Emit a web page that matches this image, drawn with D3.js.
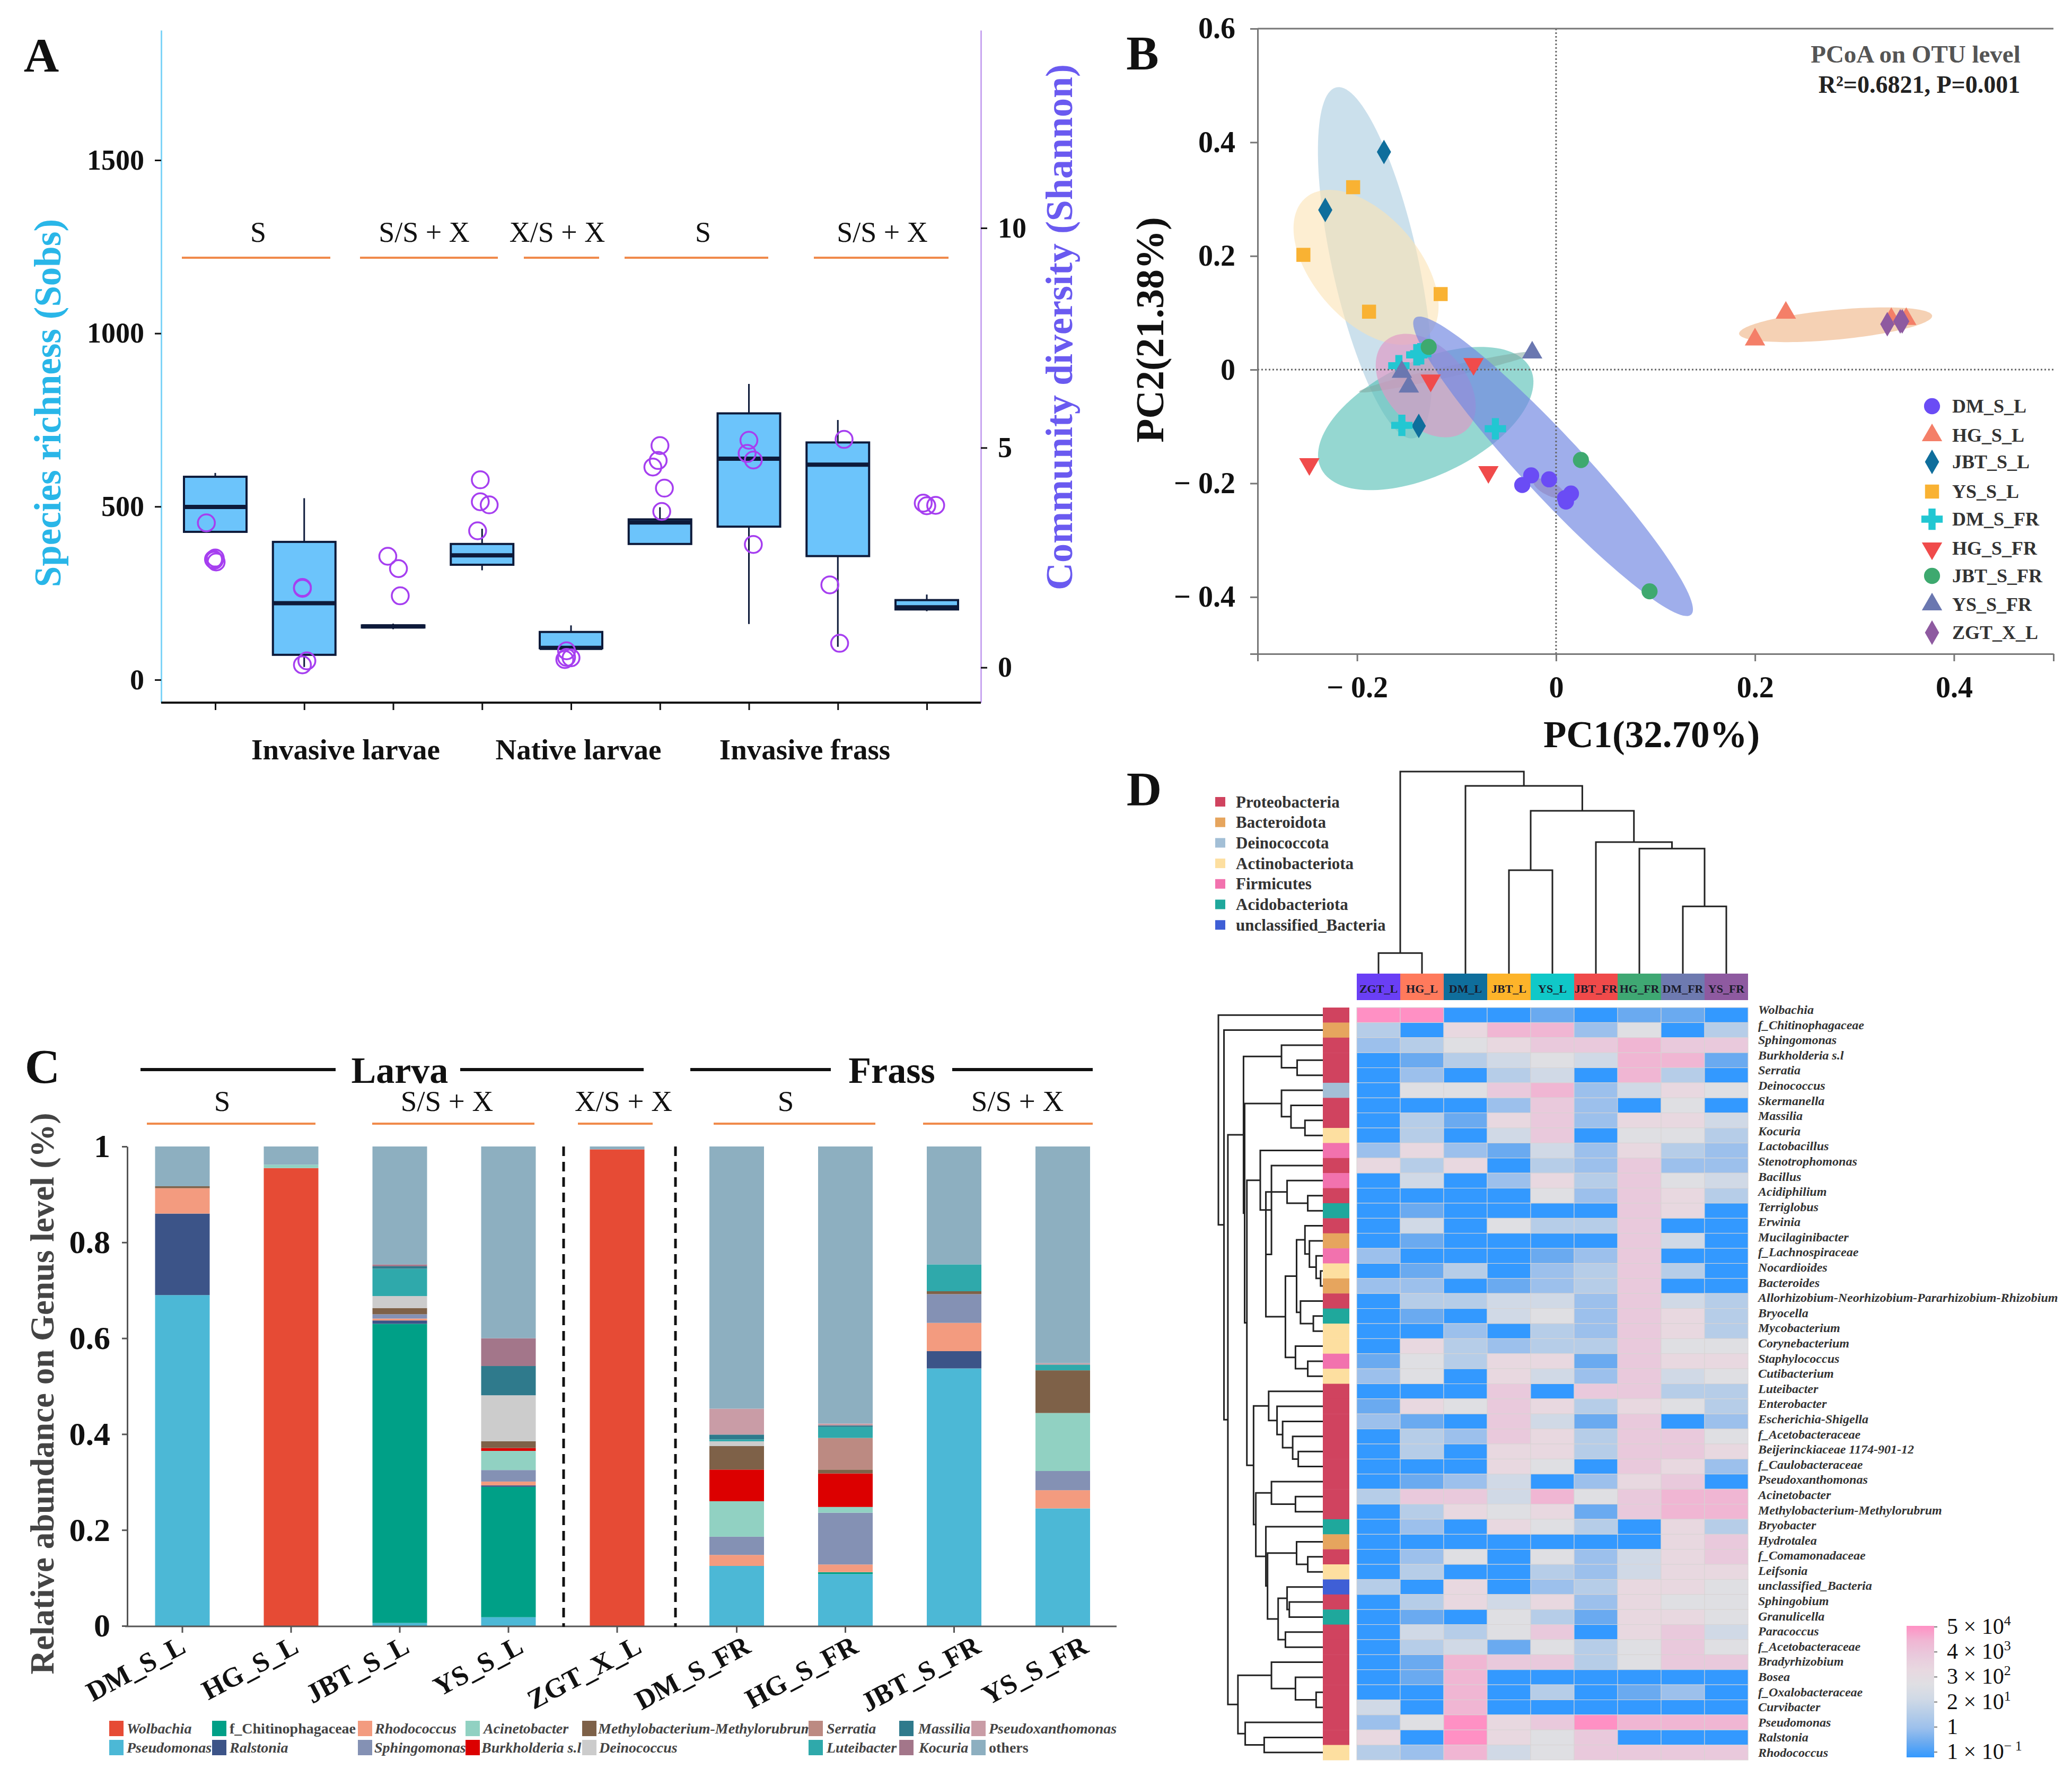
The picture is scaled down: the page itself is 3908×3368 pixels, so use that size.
<!DOCTYPE html>
<html><head><meta charset="utf-8">
<script src="https://cdn.jsdelivr.net/npm/d3@7/dist/d3.min.js"></script>
<style>html,body{margin:0;background:#fff}svg{display:block}text{font-family:"Liberation Serif",serif}</style>
</head><body><svg id="c" width="3908" height="3368" viewBox="0 0 3908 3368"></svg>
<script>
// ---------- Panel A data ----------
const sampleNames = ["DM_S_L","HG_S_L","JBT_S_L","YS_S_L","ZGT_X_L","DM_S_FR","HG_S_FR","JBT_S_FR","YS_S_FR"];
const boxLow    = [427, 37, 146, 316, 91, 392, 161, 95, 198];
const boxQ1     = [427, 72, 151, 332, 91, 392, 442, 357, 203];
const boxMedian = [499, 221, 154, 359, 92, 454, 638, 621, 209];
const boxQ3     = [586, 398, 157, 392, 138, 463, 769, 685, 230];
const boxHigh   = [597, 524, 162, 436, 157, 498, 854, 750, 246];
const shannonPos = [-0.1,0,-0.01,0.01,-0.02, 0.98,0.98,1.03,0.98, 1.94,2.06,2.08, 2.98,2.98,3.08,2.95, 3.95,4,3.93,3.95, 5,4.98,4.92,5.05,5.02, 6,5.98,6.05,6.05, 7.07,6.91,7.02, 7.96,8,8.1];
const shannonVal = [3.29,2.49,2.44,2.40,2.46, 1.82,1.80,0.15,0.06, 2.53,2.25,1.63, 4.27,3.77,3.70,3.11, 0.38,0.22,0.18,0.23, 5.05,4.71,4.56,4.08,3.55, 5.17,4.87,4.72,2.80, 5.19,1.88,0.55, 3.74,3.68,3.69];
const leftTicks = [0,500,1000,1500];
const rightTicks = [0,5,10];
const feedLabels = ["S","S/S + X","X/S + X","S","S/S + X"];
const hostLabels = ["Invasive larvae","Native larvae","Invasive frass"];

// ---------- Panel B data ----------
const groupNames = ["DM_S_L","HG_S_L","JBT_S_L","YS_S_L","DM_S_FR","HG_S_FR","JBT_S_FR","YS_S_FR","ZGT_X_L"];
const groupColors = ["#6a4cf5","#f47f68","#0f6e9c","#f9b233","#22c7d2","#f04b4b","#3ea96f","#6a77b0","#8e5aa0"];
const pc1 = [[-.034,-.025,-.007,.015,.01,.009],[.2,.231,.337,.352],[-.173,-.232,-.138],[-.254,-.204,-.188,-.116],[-.158,-.136,-.155,-.061,-.14],[-.083,-.126,-.248,-.068],[-.128,.025,.094],[-.024,-.155,-.148],[.333,.346,.348]];
const pc2 = [[-.203,-.186,-.193,-.218,-.232,-.226],[.053,.1,.089,.089],[.383,.281,-.099],[.202,.321,.102,.133],[.007,.028,-.098,-.104,.026],[.01,-.019,-.166,-.18],[.04,-.159,-.39],[.03,-.004,-.03],[.08,.085,.085]];
// ellipse: centre x, centre y, major vector x,y, minor vector x,y (PCoA units)
const ellipseColors = ["#a9cbe0","#fbe3b4","#efb98c","#4fbdb3","#7fa8a0","#e096c4","#c97b7b","#7187e2"];
const ellipseOpacity = [.6,.6,.65,.6,.55,.65,.6,.68];
const ellipseCx = [-.182,-.191,.281,-.131,-.109,-.131,-.007,-.003];
const ellipseCy = [.188,.180,.079,-.086,-.004,-.028,-.209,-.170];
const ellipseAx = [-.038,-.054,.097,.101,.089,.034,.015,.138];
const ellipseAy = [.309,.130,.016,.099,.035,-.086,-.015,-.262];
const ellipseBx = [.043,.049,.002,.039,.002,.037,.005,.027];
const ellipseBy = [.010,.041,-.026,-.078,-.009,.030,.009,.028];

// ---------- Panel C data ----------
const genera = ["Pseudomonas","Wolbachia","f_Chitinophagaceae","Ralstonia","Rhodococcus","Sphingomonas","Acinetobacter","Burkholderia s.l","Methylobacterium-Methylorubrum","Deinococcus","Serratia","Luteibacter","Massilia","Kocuria","Pseudoxanthomonas","others"];
const genusColors = ["#4cb8d6","#e64b35","#00a087","#3c5488","#f39b7f","#8491b4","#91d1c2","#dc0000","#7e6148","#cccccc","#bc8a82","#2fa9ab","#2f7a8c","#a3768a","#c99ca6","#8dafc0"];
const pseudomonasV = [.69,0,.006,.018,0,.125,.108,.537,.245];
const wolbachiaV   = [0,.955,0,0,.994,0,0,0,0];
const chitinoV     = [0,0,.624,.272,0,0,.004,0,0];
const ralstoniaV   = [.17,0,.007,.003,0,0,0,.036,0];
const rhodococcusV = [.053,0,.004,.008,0,.023,.016,.059,.038];
const sphingomonasV= [0,0,.009,.024,0,.038,.108,.06,.04];
const acinetoV     = [0,.007,0,.04,0,.074,.012,0,.121];
const burkholderiaV= [0,0,0,.006,0,.066,.07,0,0];
const methyloV     = [.004,0,.013,.014,0,.049,.008,.006,.089];
const deinoV       = [0,0,.025,.096,0,.01,0,0,0];
const serratiaV    = [0,0,0,0,0,0,.066,0,0];
const luteiV       = [0,0,.057,0,0,.004,.023,.056,.012];
const massiliaV    = [0,0,.005,.061,0,.01,.003,0,0];
const kocuriaV     = [0,0,.004,.058,0,0,0,0,0];
const pseudoxV     = [0,0,0,0,0,.054,.004,0,.003];
const othersV      = [.083,.038,.246,.4,.006,.547,.578,.246,.452];
const abundance = [pseudomonasV,wolbachiaV,chitinoV,ralstoniaV,rhodococcusV,sphingomonasV,acinetoV,burkholderiaV,methyloV,deinoV,serratiaV,luteiV,massiliaV,kocuriaV,pseudoxV,othersV];
const barSlots = [0,1,2,3,4,5.1,6.1,7.1,8.1];
const legendRow1 = ["Wolbachia","f_Chitinophagaceae","Rhodococcus","Acinetobacter","Methylobacterium-Methylorubrum","Serratia","Massilia","Pseudoxanthomonas"];
const legendRow2 = ["Pseudomonas","Ralstonia","Sphingomonas","Burkholderia s.l","Deinococcus","Luteibacter","Kocuria","others"];

// ---------- Panel D data ----------
const heatCols = ["ZGT_L","HG_L","DM_L","JBT_L","YS_L","JBT_FR","HG_FR","DM_FR","YS_FR"];
const heatColColors = ["#6a3ff5","#ff7a5c","#0f6e9c","#fdb42a","#10c8c8","#f04a4a","#3fa873","#6e7ab0","#8e5aa0"];
const phyla = ["Proteobacteria","Bacteroidota","Deinococcota","Actinobacteriota","Firmicutes","Acidobacteriota","unclassified_Bacteria"];
const phylaColors = ["#d0435f","#e6a55e","#a3bfd6","#fddfa0","#f272ae","#1fa89c","#3f5fd6"];
const heatRows = ["Wolbachia","f_Chitinophagaceae","Sphingomonas","Burkholderia s.l","Serratia","Deinococcus","Skermanella","Massilia","Kocuria","Lactobacillus","Stenotrophomonas","Bacillus","Acidiphilium","Terriglobus","Erwinia","Mucilaginibacter","f_Lachnospiraceae","Nocardioides","Bacteroides","Allorhizobium-Neorhizobium-Pararhizobium-Rhizobium","Bryocella","Mycobacterium","Corynebacterium","Staphylococcus","Cutibacterium","Luteibacter","Enterobacter","Escherichia-Shigella","f_Acetobacteraceae","Beijerinckiaceae 1174-901-12","f_Caulobacteraceae","Pseudoxanthomonas","Acinetobacter","Methylobacterium-Methylorubrum","Bryobacter","Hydrotalea","f_Comamonadaceae","Leifsonia","unclassified_Bacteria","Sphingobium","Granulicella","Paracoccus","f_Acetobacteraceae","Bradyrhizobium","Bosea","f_Oxalobacteraceae","Curvibacter","Pseudomonas","Ralstonia","Rhodococcus"];
const rowPhylum = [0,1,0,0,0,2,0,0,3,4,0,4,0,5,0,1,4,3,1,0,5,3,3,4,3,0,0,0,0,0,0,0,0,0,5,1,0,3,6,0,5,0,0,0,0,0,0,0,0,3];
// colour level per cell (0 = lowest abundance, 9 = highest)
const heatLevels = [
"990010110","306882503","235677877","013454881","020340830","055782465","000272050","031672664","030470553",
"262142632","636032722","040263754","000052763","010000760","040533700","010000740","200012700","013023730",
"220123700","033442743","010452763","002032763","063233755","153661766","250642745","000707733","165763653",
"210741702","032763775","030663776","000650762","012402670","377485788","036561788","020653063","000000067",
"025052467","030032466","306023665","036462655","010531665","043570674","034153575","018773577","018000000",
"008030120","408000000","259679888","609657000","328457777"];
const levelColors = ["#3399ff","#6aaaf0","#9cc0ec","#b6cde8","#d0d9e6","#dfdfe3","#e8d8e0","#e9c9dc","#f0b6d3","#ff90c4"];
const colTree = [1,[.102,0,1],[.929,2,[.806,[.512,3,4],[.651,5,[.619,6,[.333,7,8]]]]]];
const S1=[74,2,[46,3,4]], S2=[74,5,[57,6,[32,7,8]]], T1=[64,11,[27,12,13]], T3=[32,14,[24,15,[12,16,[4,17,18]]]],
 T4=[40,19,[17,20,21]], T5=[49,22,[27,23,24]], T2=[67,[47,T3,T4],T5], M2=[102,T1,T2], L1=[112,9,[92,10,M2]],
 LC=[97,25,[82,26,[72,27,[54,28,[44,29,30]]]]], PC=[92,31,[49,32,33]], HC=[47,35,[27,36,37]], UC=[64,38,[60,39,40]], PA=[67,41,42],
 CC=[102,34,[99,HC,[80,UC,PA]]], L2=[124,LC,[120,PC,CC]], YY=[136,L1,L2], XX=[140,S2,YY], N3=[142,S1,XX],
 NB=[152,[92,43,[49,44,[12,45,46]]],[139,47,[105,48,49]]];
const rowTree = [187,0,[177,1,[170,N3,NB]]];
const heatLegendTicks = [[5,"4"],[4,"3"],[3,"2"],[2,"1"],[1,""],[1,"− 1"]];

// ---------- Drawing ----------
const svg = d3.select("#c");
const bold = (s,x,y,size,opt={}) => {
  const t = svg.append("text").attr("x",x).attr("y",y).attr("font-size",size).attr("font-weight",opt.weight||"bold")
    .attr("fill",opt.fill||"#111").attr("text-anchor",opt.anchor||"middle").attr("dominant-baseline","central").text(s);
  if(opt.rotate!==undefined) t.attr("transform",`rotate(${opt.rotate} ${x} ${y})`);
  if(opt.style) t.attr("font-style",opt.style);
  if(opt.spacing) t.attr("letter-spacing",opt.spacing);
  return t;
};
const hline=(x1,x2,y,c,w)=>svg.append("line").attr("x1",x1).attr("x2",x2).attr("y1",y).attr("y2",y).attr("stroke",c).attr("stroke-width",w);
const styleAxis=(g,c,w,fs,tc)=>{g.selectAll("path").attr("stroke",c).attr("stroke-width",w);g.selectAll("line").attr("stroke",tc||c).attr("stroke-width",w);
  g.selectAll("text").attr("font-size",fs).attr("font-weight","bold").attr("fill","#111").style("font-family",'"Liberation Serif"');};

// Panel labels
bold("A",78,104,92); bold("B",2155,100,92); bold("C",80,2011,92); bold("D",2158,1488,92);

// ===== Panel A =====
(function(){
 const yL=d3.scaleLinear().domain([-66,1875]).range([1325,57]);
 const yR=d3.scaleLinear().domain([-.8,14.5]).range([1325,57]);
 const x=d3.scalePoint().domain(sampleNames).range([406,1748]);
 const xJ=d3.scaleLinear().domain([0,8]).range([406,1748]);
 const gl=svg.append("g").attr("transform","translate(304,0)").call(d3.axisLeft(yL).tickValues(leftTicks).tickFormat(d3.format("d")).tickSize(12).tickSizeOuter(0).tickPadding(20));
 styleAxis(gl,"#7fd4f8",3,54,"#111");
 const gr=svg.append("g").attr("transform","translate(1850,0)").call(d3.axisRight(yR).tickValues(rightTicks).tickSize(12).tickSizeOuter(0).tickPadding(20));
 styleAxis(gr,"#c9a6f0",3,54,"#111");
 const gb=svg.append("g").attr("transform","translate(0,1325)").call(d3.axisBottom(x).tickFormat("").tickSize(14).tickSizeOuter(0));
 gb.selectAll("line").attr("stroke","#111").attr("stroke-width",3);
 gb.select("path").attr("d","M304,0H1850").attr("stroke","#111").attr("stroke-width",4);
 sampleNames.forEach((n,i)=>{
  const cx=x(n),w=118,col="#0d1a3a";
  svg.append("line").attr("x1",cx).attr("x2",cx).attr("y1",yL(boxHigh[i])).attr("y2",yL(boxLow[i])).attr("stroke",col).attr("stroke-width",3);
  svg.append("rect").attr("x",cx-w/2).attr("width",w).attr("y",yL(boxQ3[i])).attr("height",yL(boxQ1[i])-yL(boxQ3[i])).attr("fill","#6cc4fb").attr("stroke",col).attr("stroke-width",4);
  svg.append("line").attr("x1",cx-w/2).attr("x2",cx+w/2).attr("y1",yL(boxMedian[i])).attr("y2",yL(boxMedian[i])).attr("stroke",col).attr("stroke-width",8);
 });
 svg.append("g").selectAll("circle").data(shannonVal).join("circle").attr("cx",(d,i)=>xJ(shannonPos[i])).attr("cy",d=>yR(d)).attr("r",16).attr("fill","none").attr("stroke","#a63ff0").attr("stroke-width",3.5);
 const segs=[[343,623],[679,939],[988,1130],[1178,1449],[1535,1789]], lx=[487,800,1051,1326,1664];
 segs.forEach((s,i)=>{hline(s[0],s[1],486,"#f08a4b",4);bold(feedLabels[i],lx[i],438,54,{weight:"normal"});});
 [652,1091,1518].forEach((xx,i)=>bold(hostLabels[i],xx,1413,55));
 bold("Species richness (Sobs)",90,760,71,{fill:"#29b6e8",rotate:-90});
 bold("Community diversity (Shannon)",1998,617,72,{fill:"#6a5af0",rotate:-90});
})();

// ===== Panel B =====
(function(){
 const x=d3.scaleLinear().domain([-.3,.5]).range([2372,3873]);
 const y=d3.scaleLinear().domain([-.5,.6]).range([1233,54]);
 const line=d3.line();
 const ts=d3.range(0,Math.PI*2+.01,.05);
 ellipseColors.forEach((c,i)=>{
  const pts=ts.map(t=>[x(ellipseCx[i]+ellipseAx[i]*Math.cos(t)+ellipseBx[i]*Math.sin(t)),y(ellipseCy[i]+ellipseAy[i]*Math.cos(t)+ellipseBy[i]*Math.sin(t))]);
  svg.append("path").attr("d",line(pts)+"Z").attr("fill",c).attr("opacity",ellipseOpacity[i]);
 });
 svg.append("line").attr("x1",x(0)).attr("x2",x(0)).attr("y1",y(.6)).attr("y2",y(-.5)).attr("stroke","#666").attr("stroke-width",3).attr("stroke-dasharray","3 4");
 svg.append("line").attr("x1",x(-.3)).attr("x2",x(.5)).attr("y1",y(0)).attr("y2",y(0)).attr("stroke","#666").attr("stroke-width",3).attr("stroke-dasharray","3 4");
 const fmt=d=>d===0?"0":(d<0?"− "+Math.abs(d):""+d);
 const gx=svg.append("g").attr("transform","translate(0,1233)").call(d3.axisBottom(x).tickValues([-.3,-.2,-.1,0,.1,.2,.3,.4,.5]).tickFormat(d=>[-.2,0,.2,.4].some(v=>Math.abs(v-d)<1e-6)?fmt(+d.toFixed(1)):"").tickSize(14).tickSizeOuter(0).tickPadding(28));
 styleAxis(gx,"#777",3,56,"#777");
 gx.selectAll(".tick").filter(d=>![-.3,-.2,0,.2,.4,.5].some(v=>Math.abs(v-d)<1e-6)).select("line").attr("y2",0);
 const gy=svg.append("g").attr("transform","translate(2372,0)").call(d3.axisLeft(y).tickValues([-.5,-.4,-.2,0,.2,.4,.6]).tickFormat(d=>d===-.5?"":fmt(d)).tickSize(14).tickSizeOuter(0).tickPadding(28));
 styleAxis(gy,"#777",3,56,"#777");
 hline(2372,3873,54,"#777",3);
 const sym=[[d3.symbolCircle,720,0],[d3.symbolTriangle,640,0],[d3.symbolDiamond,620,0],[d3.symbolSquare,700,0],[d3.symbolCross,900,0],[d3.symbolTriangle,640,180],[d3.symbolCircle,720,0],[d3.symbolTriangle,640,0],[d3.symbolDiamond,620,0]];
 const path=(i)=>d3.symbol().type(sym[i][0]).size(sym[i][1])();
 groupNames.forEach((n,i)=>{
  svg.append("g").selectAll("path").data(pc1[i]).join("path").attr("d",path(i)).attr("fill",groupColors[i])
   .attr("transform",(d,j)=>`translate(${x(d)},${y(pc2[i][j])}) rotate(${sym[i][2]})`);
 });
 const ly=[766,821,871,927,979,1034,1086,1140,1193];
 groupNames.forEach((n,i)=>{
  svg.append("path").attr("d",path(i)).attr("fill",groupColors[i]).attr("transform",`translate(3644,${ly[i]}) rotate(${sym[i][2]})`);
  bold(n,3682,ly[i],36,{anchor:"start",fill:"#333"});
 });
 bold("PCoA on OTU level",3613,102,47,{fill:"#555"});
 svg.append("text").attr("x",3620).attr("y",159).attr("text-anchor","middle").attr("dominant-baseline","central").attr("font-size",46).attr("font-weight","bold").attr("fill","#222").text("R²=0.6821, P=0.001");
 bold("PC1(32.70%)",3115,1385,71);
 bold("PC2(21.38%)",2169,622,74,{rotate:-90});
})();

// ===== Panel C =====
(function(){
 const slot=d3.scaleLinear().domain([0,1]).range([344,549]);
 const y=d3.scaleLinear().domain([0,1]).range([3066,2162]);
 const rows=sampleNames.map((n,i)=>{const o={name:n,slot:barSlots[i]};genera.forEach((g,k)=>o[g]=abundance[k][i]);return o;});
 const stacked=d3.stack().keys(genera)(rows);
 const w=103;
 stacked.forEach((s,k)=>{
  svg.append("g").attr("fill",genusColors[k]).selectAll("rect").data(s).join("rect")
   .attr("x",d=>slot(d.data.slot)-w/2).attr("width",w).attr("y",d=>y(d[1])).attr("height",d=>y(d[0])-y(d[1]));
 });
 const ga=svg.append("g").attr("transform","translate(240,0)").call(d3.axisLeft(y).tickValues([0,.2,.4,.6,.8,1]).tickFormat(d=>d===0?"0":d===1?"1":d3.format(".1f")(d)).tickSize(10).tickSizeOuter(0).tickPadding(22));
 styleAxis(ga,"#555",3,62,"#555");
 hline(236,2106,3067,"#555",3);
 rows.forEach((r,i)=>{
  const xx=slot(r.slot);
  svg.append("line").attr("x1",xx).attr("x2",xx).attr("y1",3067).attr("y2",3079).attr("stroke","#555").attr("stroke-width",3);
  bold(r.name,xx+[-8,0,4,14,32,12,10,36,34][i],3082,52,{anchor:"end",rotate:-28}).attr("dominant-baseline","hanging");
 });
 [1063,1274].forEach(xx=>svg.append("line").attr("x1",xx).attr("x2",xx).attr("y1",2162).attr("y2",3068).attr("stroke","#111").attr("stroke-width",5).attr("stroke-dasharray","18 11"));
 [[265,633],[868,1214],[1302,1567],[1796,2061]].forEach(s=>hline(s[0],s[1],2017,"#111",6));
 bold("Larva",754,2018,70); bold("Frass",1682,2018,70);
 const segs=[[277,595],[702,1008],[1090,1231],[1346,1651],[1741,2061]], lx=[419,843,1176,1482,1919], lab=["S","S/S + X","X/S + X","S","S/S + X"];
 segs.forEach((s,i)=>{hline(s[0],s[1],2119,"#f08a4b",4);bold(lab[i],lx[i],2076,55,{weight:"normal"});});
 bold("Relative abundance on Genus level (%)",80,2628,63,{rotate:-90,fill:"#444"});
 const swX=[206,400,675,878,1098,1525,1696,1832], txX=[239,433,707,912,1128,1559,1732,1865];
 const txX2=[239,433,706,908,1130,1559,1733,1865];
 [legendRow1,legendRow2].forEach((row,r)=>row.forEach((g,i)=>{
  const yy=r?3295:3259;
  svg.append("rect").attr("x",swX[i]).attr("y",yy-14).attr("width",27).attr("height",29).attr("fill",genusColors[genera.indexOf(g)]);
  const plain=g==="f_Chitinophagaceae"||g==="others";
  bold(g,(r?txX2:txX)[i],yy,28,{anchor:"start",fill:"#444",style:plain?"normal":"italic"});
 }));
})();

// ===== Panel D =====
(function(){
 const x=d3.scaleBand().domain(d3.range(heatCols.length)).range([2559,3297]);
 const y=d3.scaleBand().domain(d3.range(heatRows.length)).range([1900,3319]);
 const labelY=d3.scalePoint().domain(d3.range(heatRows.length)).range([1904,3305]);
 const level=d3.scaleLinear().domain(d3.range(10)).range(levelColors);
 heatLevels.forEach((s,r)=>{
  s.split("").forEach((ch,c)=>svg.append("rect").attr("x",x(c)).attr("y",y(r)).attr("width",x.bandwidth()).attr("height",y.bandwidth()).attr("fill",level(+ch)).attr("stroke","#d8d4d4").attr("stroke-width",1));
  svg.append("rect").attr("x",2495).attr("width",50).attr("y",y(r)).attr("height",y.bandwidth()+.5).attr("fill",phylaColors[rowPhylum[r]]);
  bold(heatRows[r],3316,labelY(r),24,{anchor:"start",style:"italic",fill:"#333"});
 });
 heatCols.forEach((n,c)=>{
  svg.append("rect").attr("x",x(c)).attr("width",x.bandwidth()).attr("y",1836).attr("height",50).attr("fill",heatColColors[c]);
  bold(n,x(c)+x.bandwidth()/2,1864,22,{fill:"#1a1a2a"});
 });
 const dy=d3.scaleLinear().domain([0,1]).range([1836,1455]);
 const drawCol=n=>{
  if(typeof n==="number") return {p:x(n)+x.bandwidth()/2,h:0};
  const a=drawCol(n[1]),b=drawCol(n[2]);
  svg.append("path").attr("d",`M${a.p},${dy(a.h)}V${dy(n[0])}H${b.p}V${dy(b.h)}`).attr("fill","none").attr("stroke","#222").attr("stroke-width",3);
  return {p:(a.p+b.p)/2,h:n[0]};
 };
 drawCol(colTree);
 const dx=d3.scaleLinear().domain([0,187]).range([2495,2298]);
 const drawRow=n=>{
  if(typeof n==="number") return {p:y(n)+y.bandwidth()/2,h:0};
  const a=drawRow(n[1]),b=drawRow(n[2]);
  svg.append("path").attr("d",`M${dx(a.h)},${a.p}H${dx(n[0])}V${b.p}H${dx(b.h)}`).attr("fill","none").attr("stroke","#222").attr("stroke-width",3);
  return {p:(a.p+b.p)/2,h:n[0]};
 };
 drawRow(rowTree);
 phyla.forEach((p,i)=>{
  const yy=1512+i*38.7;
  svg.append("rect").attr("x",2292).attr("y",yy-9).attr("width",19).attr("height",18).attr("fill",phylaColors[i]);
  bold(p,2331,yy,31,{anchor:"start",fill:"#333"});
 });
 // gradient legend
 const grad=svg.append("defs").append("linearGradient").attr("id","hg").attr("x1",0).attr("x2",0).attr("y1",1).attr("y2",0);
 levelColors.forEach((c,i)=>grad.append("stop").attr("offset",i/(levelColors.length-1)).attr("stop-color",c));
 svg.append("rect").attr("x",3596).attr("y",3066).attr("width",52).attr("height",248).attr("fill","url(#hg)");
 const tickY=d3.scalePoint().domain(d3.range(heatLegendTicks.length)).range([3068,3304]);
 heatLegendTicks.forEach((t,i)=>{
  const yy=tickY(i);
  svg.append("line").attr("x1",3648).attr("x2",3654).attr("y1",yy).attr("y2",yy).attr("stroke","#777").attr("stroke-width",2);
  const tx=svg.append("text").attr("x",3672).attr("y",yy+13).attr("font-size",42).attr("fill","#111");
  if(t[1]===""){tx.text("1");}
  else{
   tx.append("tspan").text(t[0]+" × 10");
   tx.append("tspan").attr("dy",-16).attr("font-size",26).text(t[1]);
  }
 });
})();
</script></body></html>
